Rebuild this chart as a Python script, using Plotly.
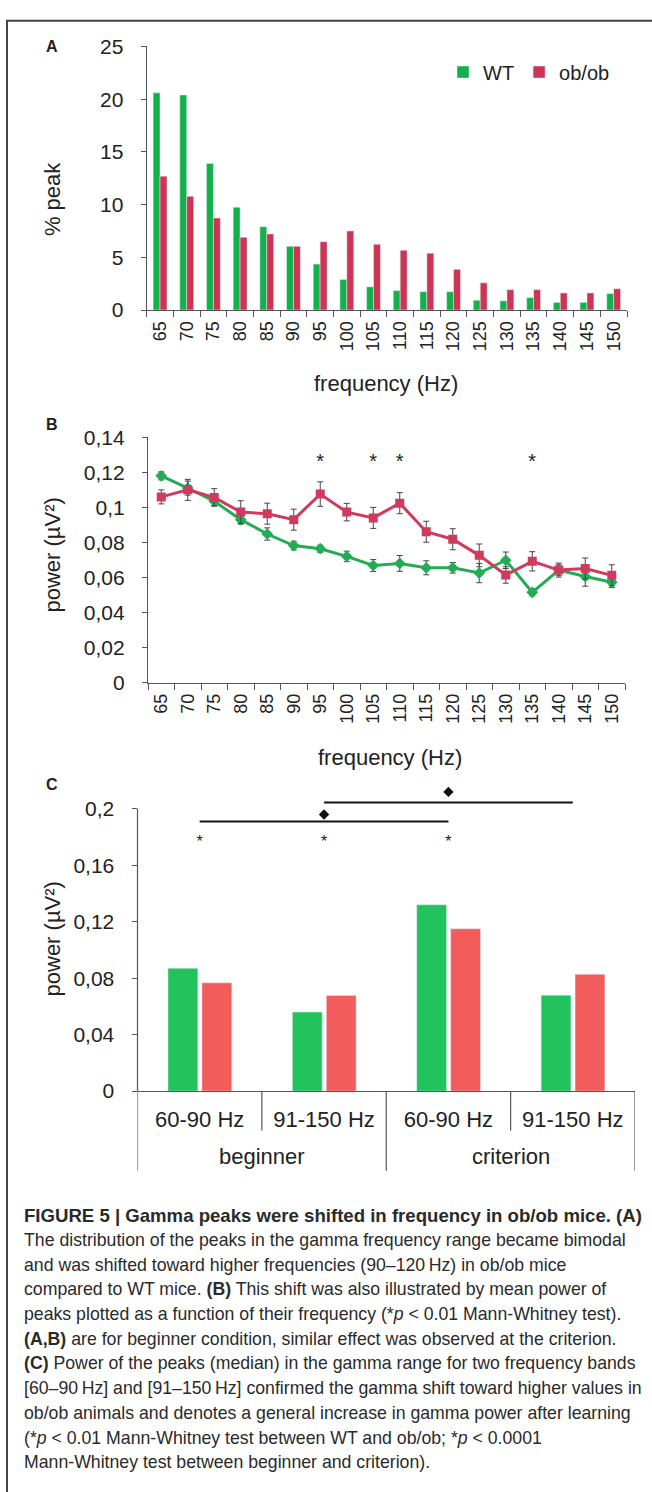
import plotly.graph_objects as go

W, H = 652, 1492

# ---------------- data ----------------
freq = ["65", "70", "75", "80", "85", "90", "95", "100", "105", "110",
        "115", "120", "125", "130", "135", "140", "145", "150"]

# Panel A: % of peaks per frequency bin
pct_wt = [20.6, 20.4, 13.9, 9.75, 7.9, 6.04, 4.36, 2.9, 2.2, 1.84,
          1.74, 1.74, 0.93, 0.87, 1.18, 0.72, 0.72, 1.56]
pct_ob = [12.7, 10.8, 8.72, 6.9, 7.22, 6.04, 6.48, 7.5, 6.23, 5.67,
          5.39, 3.86, 2.58, 1.93, 1.93, 1.62, 1.62, 2.02]

# Panel B: mean power of peaks (uV^2) with error bars
pow_wt = [0.1180, 0.1110, 0.1035, 0.0930, 0.0848, 0.0782, 0.0764, 0.0720, 0.0668, 0.0680,
          0.0655, 0.0655, 0.0625, 0.0698, 0.0515, 0.0642, 0.0605, 0.0572]
err_wt = [0.0023, 0.0040, 0.0025, 0.0025, 0.0035, 0.0025, 0.0020, 0.0030, 0.0034, 0.0045,
          0.0040, 0.0030, 0.0055, 0.0047, 0.0020, 0.0030, 0.0055, 0.0030]
pow_ob = [0.1060, 0.1100, 0.1057, 0.0973, 0.0964, 0.0930, 0.1076, 0.0973, 0.0940, 0.1024,
          0.0861, 0.0818, 0.0726, 0.0614, 0.0692, 0.0642, 0.0651, 0.0612]
err_ob = [0.0040, 0.0060, 0.0050, 0.0065, 0.0060, 0.0060, 0.0070, 0.0050, 0.0060, 0.0060,
          0.0060, 0.0060, 0.0065, 0.0047, 0.0055, 0.0040, 0.0060, 0.0060]
sig_b_freq = ["95", "105", "110", "135"]
sig_b_level = 0.1255

# Panel C: median power per band and stage
stages = ["beginner", "beginner", "criterion", "criterion"]
bands = ["60-90 Hz", "91-150 Hz", "60-90 Hz", "91-150 Hz"]
c_wt = [0.087, 0.056, 0.132, 0.068]
c_ob = [0.0767, 0.0677, 0.115, 0.0828]
sig_c_idx = [0, 1, 2]            # WT vs ob/ob asterisks
sig_c_level = 0.176
bar_c_pairs = [(0, 2), (1, 3)]   # beginner vs criterion brackets
bar_c_levels = [0.191, 0.2044]
diam_c_idx = [1, 2]
diam_c_levels = [0.196, 0.212]

a_ticks = [0, 5, 10, 15, 20, 25]
b_ticks = [0, 0.02, 0.04, 0.06, 0.08, 0.10, 0.12, 0.14]
b_ticktext = ["0", "0,02", "0,04", "0,06", "0,08", "0,1", "0,12", "0,14"]
c_ticks = [0, 0.04, 0.08, 0.12, 0.16, 0.20]
c_ticktext = ["0", "0,04", "0,08", "0,12", "0,16", "0,2"]

caption = [
    "<b>FIGURE 5 | Gamma peaks were shifted in frequency in ob/ob mice. (A)</b>",
    "The distribution of the peaks in the gamma frequency range became bimodal",
    "and was shifted toward higher frequencies (90\u2013120\u2009Hz) in ob/ob mice",
    "compared to WT mice. <b>(B)</b> This shift was also illustrated by mean power of",
    "peaks plotted as a function of their frequency (*<i>p</i> &lt; 0.01 Mann-Whitney test).",
    "<b>(A,B)</b> are for beginner condition, similar effect was observed at the criterion.",
    "<b>(C)</b> Power of the peaks (median) in the gamma range for two frequency bands",
    "[60\u201390\u2009Hz] and [91\u2013150\u2009Hz] confirmed the gamma shift toward higher values in",
    "ob/ob animals and denotes a general increase in gamma power after learning",
    "(*<i>p</i> &lt; 0.01 Mann-Whitney test between WT and ob/ob; *<i>p</i> &lt; 0.0001",
    "Mann-Whitney test between beginner and criterion).",
]

# ---------------- styling ----------------
FONT = "Liberation Sans, Arial, Helvetica, sans-serif"
TXT = "#222222"
AX = "#555555"
FRAME = "#444444"
GA, RA = "#14b04c", "#cc3553"      # panel A
GB, RB = "#22ad55", "#d03a5c"      # panel B
GC, RC = "#22c25c", "#f25c5a"      # panel C

C_TOP = 0.22                       # y3 range top (room for brackets)
C_Y0, C_Y02 = 1096, 809.3          # pixel rows of 0 and 0.2 on panel C
C_PX_PER = (C_Y0 - C_Y02) / 0.2


def px_x(p):
    return p / W


def px_y(p):
    return 1 - p / H


# positions of panel C categories on its axis (one slot per band/stage pair)
c_pos = list(range(len(bands)))
group_names = []
for s in stages:
    if s not in group_names:
        group_names.append(s)
group_centers = [sum(p for p, s in zip(c_pos, stages) if s == g) / stages.count(g) for g in group_names]
group_edges = [c_pos[0] - 0.5] + [p + 0.5 for p, s, s2 in zip(c_pos, stages, stages[1:] + [None]) if s != s2]
inner_edges = [p + 0.5 for p, s, s2 in zip(c_pos[:-1], stages[:-1], stages[1:]) if s == s2]

fig = go.Figure()

# Panel A bars
fig.add_trace(go.Bar(x=freq, y=pct_wt, name="WT", marker_color=GA, width=0.26, offset=-0.26,
                     xaxis="x", yaxis="y"))
fig.add_trace(go.Bar(x=freq, y=pct_ob, name="ob/ob", marker_color=RA, width=0.26, offset=0.0,
                     xaxis="x", yaxis="y"))

# Panel B lines
fig.add_trace(go.Scatter(x=freq, y=pow_wt, mode="lines+markers", showlegend=False,
                         line=dict(color=GB, width=3),
                         marker=dict(symbol="diamond", size=9, color=GB),
                         error_y=dict(type="data", array=err_wt, color="#444", thickness=1, width=3),
                         xaxis="x2", yaxis="y2"))
fig.add_trace(go.Scatter(x=freq, y=pow_ob, mode="lines+markers", showlegend=False,
                         line=dict(color=RB, width=3),
                         marker=dict(symbol="square", size=9, color=RB),
                         error_y=dict(type="data", array=err_ob, color="#444", thickness=1, width=3),
                         xaxis="x2", yaxis="y2"))
fig.add_trace(go.Scatter(x=sig_b_freq, y=[sig_b_level] * len(sig_b_freq), mode="text",
                         text=["*"] * len(sig_b_freq), textfont=dict(size=20, color=TXT, family=FONT),
                         showlegend=False, cliponaxis=False, hoverinfo="skip",
                         xaxis="x2", yaxis="y2"))

# Panel C bars
fig.add_trace(go.Bar(x=c_pos, y=c_wt, marker_color=GC, width=0.24, offset=-0.255,
                     showlegend=False, xaxis="x3", yaxis="y3"))
fig.add_trace(go.Bar(x=c_pos, y=c_ob, marker_color=RC, width=0.24, offset=0.018,
                     showlegend=False, xaxis="x3", yaxis="y3"))
fig.add_trace(go.Scatter(x=[c_pos[i] for i in sig_c_idx],
                         y=[sig_c_level] * len(sig_c_idx), mode="text",
                         text=["*"] * len(sig_c_idx), textfont=dict(size=16, color=TXT, family=FONT),
                         showlegend=False, cliponaxis=False, hoverinfo="skip",
                         xaxis="x3", yaxis="y3"))
for (i0, i1), lev in zip(bar_c_pairs, bar_c_levels):
    fig.add_trace(go.Scatter(x=[c_pos[i0], c_pos[i1]],
                             y=[lev, lev], mode="lines", line=dict(color="#111", width=2),
                             showlegend=False, cliponaxis=False, hoverinfo="skip",
                             xaxis="x3", yaxis="y3"))
fig.add_trace(go.Scatter(x=[c_pos[i] for i in diam_c_idx],
                         y=diam_c_levels, mode="markers",
                         marker=dict(symbol="diamond", size=8, color="#111"),
                         showlegend=False, cliponaxis=False, hoverinfo="skip",
                         xaxis="x3", yaxis="y3"))

axis_common = dict(showline=True, linecolor=AX, linewidth=1.2, ticks="outside", tickcolor=AX,
                   tickwidth=1.2, showgrid=False, zeroline=False, fixedrange=True)

fig.update_layout(
    width=W, height=H, margin=dict(l=0, r=0, t=0, b=0),
    paper_bgcolor="white", plot_bgcolor="rgba(0,0,0,0)",
    font=dict(family=FONT, color=TXT),
    barmode="overlay",
    showlegend=True,
    legend=dict(orientation="h", x=px_x(443), y=px_y(61), xanchor="left", yanchor="middle",
                font=dict(size=20, family=FONT, color=TXT), bgcolor="rgba(0,0,0,0)",
                itemwidth=30, tracegroupgap=0),
    xaxis=dict(axis_common, domain=[px_x(146.7), px_x(627)], anchor="y", type="category",
               categoryorder="array", categoryarray=freq, range=[-0.5, 17.5],
               tickson="boundaries", ticklen=6, tickangle=-90,
               tickfont=dict(size=18), ticklabelstandoff=3),
    yaxis=dict(axis_common, domain=[px_y(302.7), px_y(35)], anchor="x", range=[0, 25],
               tickvals=a_ticks, ticklen=5, tickfont=dict(size=21), ticklabelstandoff=13),
    xaxis2=dict(axis_common, domain=[px_x(148), px_x(625)], anchor="y2", type="category",
                categoryorder="array", categoryarray=freq, range=[-0.5, 17.5],
                tickson="boundaries", ticklen=6, tickangle=-90,
                tickfont=dict(size=18), ticklabelstandoff=3),
    yaxis2=dict(axis_common, domain=[px_y(681), px_y(432)], anchor="x2", range=[0, 0.14],
                tickvals=b_ticks, ticktext=b_ticktext, ticklen=5, tickfont=dict(size=21),
                ticklabelstandoff=13),
    xaxis3=dict(axis_common, domain=[px_x(137.5), px_x(635)], anchor="y3", type="linear",
                range=[c_pos[0] - 0.5, c_pos[-1] + 0.5], tickvals=c_pos, ticktext=bands,
                ticks="", tickfont=dict(size=22), ticklabelstandoff=8),
    yaxis3=dict(axis_common, showline=False,
                domain=[px_y(C_Y0), px_y(C_Y0 - C_TOP * C_PX_PER)], anchor="x3", range=[0, C_TOP],
                tickvals=c_ticks, ticktext=c_ticktext, ticklen=5, tickfont=dict(size=21),
                ticklabelstandoff=13),
)

# panel C y-axis line (drawn only up to 0.2), category dividers
fig.add_shape(type="line", xref="x3 domain", yref="y3", x0=0, x1=0, y0=0, y1=c_ticks[-1],
              line=dict(color=AX, width=1.2))
for e in group_edges:
    fig.add_shape(type="line", xref="x3", yref="paper", x0=e, x1=e,
                  y0=px_y(C_Y0), y1=px_y(C_Y0 + 81), line=dict(color=AX, width=1.2))
for e in inner_edges:
    fig.add_shape(type="line", xref="x3", yref="paper", x0=e, x1=e,
                  y0=px_y(C_Y0), y1=px_y(C_Y0 + 40), line=dict(color=AX, width=1.2))

# figure frame: open box whose top and left edges are visible
fig.add_shape(type="rect", xref="paper", yref="paper", x0=px_x(7), x1=px_x(W + 20),
              y0=px_y(H + 20), y1=px_y(9), line=dict(color=FRAME, width=2),
              fillcolor="rgba(0,0,0,0)", layer="above")

ann = []
for g, gc in zip(group_names, group_centers):
    ann.append(dict(text=g, x=gc, y=px_y(C_Y0 + 66), xref="x3", yref="paper",
                    showarrow=False, xanchor="center", yanchor="middle",
                    font=dict(size=22, family=FONT, color=TXT)))
for lbl, yy in [("A", 35), ("B", 419), ("C", 785)]:
    ann.append(dict(text="<b>%s</b>" % lbl, x=px_x(52), y=px_y(yy), xref="paper", yref="paper",
                    showarrow=False, xanchor="center", yanchor="middle",
                    font=dict(size=16, family=FONT, color=TXT)))
for txt, xx, yy, ang in [("% peak", 52, 190, -90), ("power (µV²)", 52, 552, -90),
                         ("power (µV²)", 52, 942, -90), ("frequency (Hz)", 386, 377, 0),
                         ("frequency (Hz)", 390, 757, 0)]:
    ann.append(dict(text=txt, x=px_x(xx), y=px_y(yy), xref="paper", yref="paper",
                    showarrow=False, xanchor="center", yanchor="middle", textangle=ang,
                    font=dict(size=22, family=FONT, color=TXT)))
for k, line in enumerate(caption):
    ann.append(dict(text=line, x=px_x(22), y=px_y(1222 + 25.1 * k), xref="paper", yref="paper",
                    showarrow=False, xanchor="left", yanchor="middle", align="left",
                    font=dict(size=18.6 if k == 0 else 17.7, family=FONT, color="#2a2a2a")))
fig.update_layout(annotations=ann)

fig.write_html("out.html", config={"displayModeBar": False},
               post_script="document.body.style.margin='0';")
